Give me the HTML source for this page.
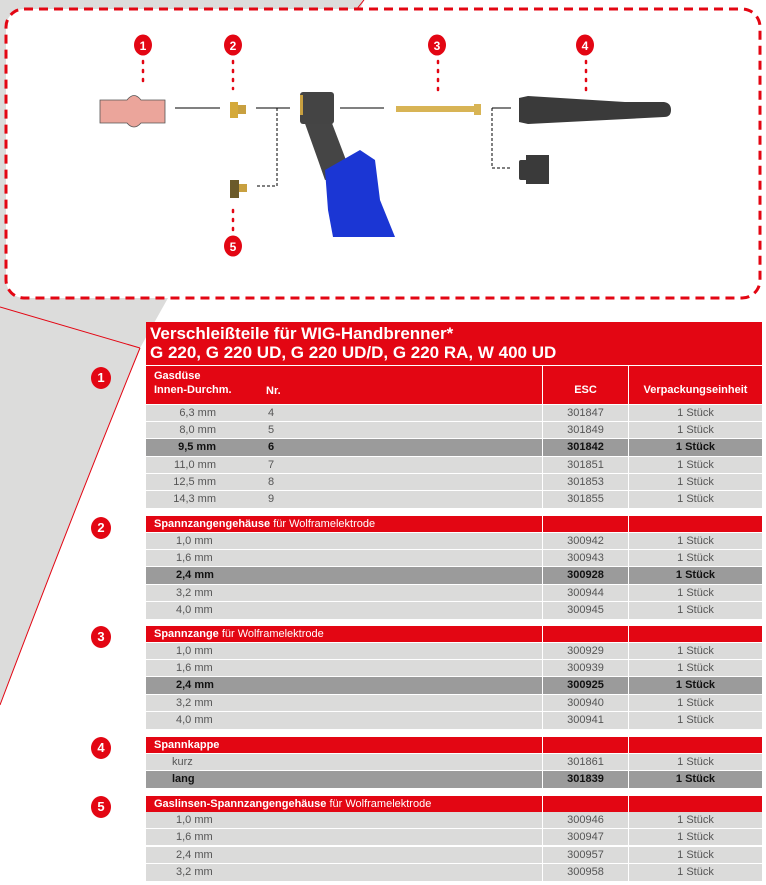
<!DOCTYPE html>
<html><head><meta charset="utf-8"><style>
body{margin:0;width:766px;height:885px;position:relative;background:#fff;overflow:hidden;font-family:"Liberation Sans Narrow","Liberation Sans",sans-serif;}
.r{position:absolute;left:146px;width:616px;height:16px;font-size:11px;color:#555;}
.r div{position:absolute;top:0;height:100%;line-height:16px;}
.a{left:0;width:396px;background:#dbdbda}
.b{left:397px;width:85px;background:#dbdbda;text-align:center}
.c{left:483px;width:133px;background:#dbdbda;text-align:center}
.d div{background:#9b9b9b;color:#111;font-weight:bold}
.h div{background:#e30613;color:#fff;font-weight:bold;font-size:11px}
.n{position:absolute;left:91px;width:20px;height:22px;border-radius:50%;background:#e30613;color:#fff;font:bold 13px "Liberation Sans",sans-serif;text-align:center;line-height:22px}
</style></head><body>
<svg width="766" height="885" style="position:absolute;left:0;top:0">
<path d="M0,0 H364 L300,150 L168,298 L140,348 Q70,520 0,705 Z" fill="#dcdcdb"/>
<line x1="0" y1="307" x2="140" y2="348" stroke="#e30613" stroke-width="1"/>
<path d="M140,348 Q70,520 0,705" fill="none" stroke="#e30613" stroke-width="1"/>
<line x1="364" y1="0" x2="356" y2="10" stroke="#e30613" stroke-width="1"/>
<rect x="6" y="9" width="754" height="289" rx="18" fill="#fff" stroke="#e30613" stroke-width="3" stroke-dasharray="9,6"/>
<g fill="#e30613">
<ellipse cx="143" cy="45" rx="9" ry="10.5"/><ellipse cx="233" cy="45" rx="9" ry="10.5"/><ellipse cx="437" cy="45" rx="9" ry="10.5"/><ellipse cx="585" cy="45" rx="9" ry="10.5"/><ellipse cx="233" cy="246" rx="9" ry="10.5"/>
</g>
<g fill="#fff" font-family="Liberation Sans" font-weight="bold" font-size="12" text-anchor="middle">
<text x="143" y="50">1</text><text x="233" y="50">2</text><text x="437" y="50">3</text><text x="585" y="50">4</text><text x="233" y="251">5</text></g>
<g stroke="#e30613" stroke-width="2.5" stroke-dasharray="2,7" stroke-linecap="round">
<line x1="143" y1="61" x2="143" y2="82"/><line x1="233" y1="61" x2="233" y2="89"/><line x1="438" y1="61" x2="438" y2="92"/><line x1="586" y1="61" x2="586" y2="90"/><line x1="233" y1="210" x2="233" y2="231"/></g>
<path d="M100,100 H127 Q134,91 141,100 H165 V123 H141 Q134,131 127,123 H100 Z" fill="#eba59b" stroke="#555" stroke-width="0.8"/>
<g stroke="#000" stroke-width="1"><line x1="175" y1="108" x2="220" y2="108"/><line x1="256" y1="108" x2="290" y2="108"/><line x1="340" y1="108" x2="384" y2="108"/><line x1="492" y1="108" x2="511" y2="108"/></g>
<g stroke="#000" stroke-width="1" stroke-dasharray="3,2" fill="none"><path d="M277,108 V186 H256"/><path d="M492,108 V168 H511"/></g>
<rect x="230" y="102" width="8" height="16" fill="#d4a93a"/><rect x="238" y="105" width="8" height="9" fill="#c8a040"/>
<rect x="230" y="180" width="9" height="18" fill="#6b5a2a"/><rect x="239" y="184" width="8" height="8" fill="#c8a040"/>
<rect x="396" y="106" width="80" height="6" fill="#d8b455"/><rect x="474" y="104" width="7" height="11" fill="#d8b455"/>
<path d="M519,98 L528,96 L625,102 H664 Q671,103 671,110 Q671,117 664,117 L528,124 L519,122 Z" fill="#3a3a3a"/>
<rect x="519" y="160" width="9" height="20" rx="2" fill="#3a3a3a"/><rect x="526" y="155" width="23" height="29" fill="#3a3a3a"/>
<path d="M303,118 H330 L346,160 L338,178 L325,180 L318,160 Z" fill="#454545"/>
<path d="M325,170 L360,150 L375,160 L380,200 L395,237 H333 L328,210 Z" fill="#1b36d4"/>
<rect x="300" y="92" width="34" height="32" rx="3" fill="#444"/>
<rect x="300" y="95" width="3" height="20" fill="#c8a040"/>
</svg>
<div style="position:absolute;left:146px;top:322px;width:616px;height:43px;background:#e30613;color:#fff;font:bold 17px/19px 'Liberation Sans Narrow','Liberation Sans',sans-serif;padding:2px 0 0 4px;box-sizing:border-box">Verschleißteile für WIG-Handbrenner*<br>G 220, G 220 UD, G 220 UD/D, G 220 RA, W 400 UD</div>
<div class="r h" style="top:366px;height:38px"><div class="a" style="line-height:14px;padding:3px 0 0 8px;box-sizing:border-box;width:396px">Gasdüse<br>Innen-Durchm.<span style="position:absolute;left:120px;bottom:6px">Nr.</span></div><div class="b" style="line-height:48px">ESC</div><div class="c" style="line-height:48px">Verpackungseinheit</div></div>
<div class="n" style="top:367px">1</div><div class="n" style="top:517px">2</div><div class="n" style="top:626px">3</div><div class="n" style="top:737px">4</div><div class="n" style="top:796px">5</div>
<div class="r" style="top:405px"><div class="a"><span style="position:absolute;left:0;width:70px;text-align:right">6,3 mm</span><span style="position:absolute;left:122px">4</span></div><div class="b">301847</div><div class="c">1 Stück</div></div>
<div class="r" style="top:422px"><div class="a"><span style="position:absolute;left:0;width:70px;text-align:right">8,0 mm</span><span style="position:absolute;left:122px">5</span></div><div class="b">301849</div><div class="c">1 Stück</div></div>
<div class="r d" style="top:439px;height:17px"><div class="a"><span style="position:absolute;left:0;width:70px;text-align:right">9,5 mm</span><span style="position:absolute;left:122px">6</span></div><div class="b">301842</div><div class="c">1 Stück</div></div>
<div class="r" style="top:457px"><div class="a"><span style="position:absolute;left:0;width:70px;text-align:right">11,0 mm</span><span style="position:absolute;left:122px">7</span></div><div class="b">301851</div><div class="c">1 Stück</div></div>
<div class="r" style="top:474px"><div class="a"><span style="position:absolute;left:0;width:70px;text-align:right">12,5 mm</span><span style="position:absolute;left:122px">8</span></div><div class="b">301853</div><div class="c">1 Stück</div></div>
<div class="r" style="top:491px;height:17px"><div class="a"><span style="position:absolute;left:0;width:70px;text-align:right">14,3 mm</span><span style="position:absolute;left:122px">9</span></div><div class="b">301855</div><div class="c">1 Stück</div></div>

<div class="r h" style="top:516px"><div class="a" style="padding-left:8px;box-sizing:border-box">Spannzangengehäuse <span style="font-weight:normal">für Wolframelektrode</span></div><div class="b"></div><div class="c"></div></div>
<div class="r" style="top:533px"><div class="a" style="padding-left:30px;box-sizing:border-box">1,0 mm</div><div class="b">300942</div><div class="c">1 Stück</div></div>
<div class="r" style="top:550px"><div class="a" style="padding-left:30px;box-sizing:border-box">1,6 mm</div><div class="b">300943</div><div class="c">1 Stück</div></div>
<div class="r d" style="top:567px;height:17px"><div class="a" style="padding-left:30px;box-sizing:border-box">2,4 mm</div><div class="b">300928</div><div class="c">1 Stück</div></div>
<div class="r" style="top:585px"><div class="a" style="padding-left:30px;box-sizing:border-box">3,2 mm</div><div class="b">300944</div><div class="c">1 Stück</div></div>
<div class="r" style="top:602px;height:17px"><div class="a" style="padding-left:30px;box-sizing:border-box">4,0 mm</div><div class="b">300945</div><div class="c">1 Stück</div></div>

<div class="r h" style="top:626px"><div class="a" style="padding-left:8px;box-sizing:border-box">Spannzange <span style="font-weight:normal">für Wolframelektrode</span></div><div class="b"></div><div class="c"></div></div>
<div class="r" style="top:643px"><div class="a" style="padding-left:30px;box-sizing:border-box">1,0 mm</div><div class="b">300929</div><div class="c">1 Stück</div></div>
<div class="r" style="top:660px"><div class="a" style="padding-left:30px;box-sizing:border-box">1,6 mm</div><div class="b">300939</div><div class="c">1 Stück</div></div>
<div class="r d" style="top:677px;height:17px"><div class="a" style="padding-left:30px;box-sizing:border-box">2,4 mm</div><div class="b">300925</div><div class="c">1 Stück</div></div>
<div class="r" style="top:695px"><div class="a" style="padding-left:30px;box-sizing:border-box">3,2 mm</div><div class="b">300940</div><div class="c">1 Stück</div></div>
<div class="r" style="top:712px;height:17px"><div class="a" style="padding-left:30px;box-sizing:border-box">4,0 mm</div><div class="b">300941</div><div class="c">1 Stück</div></div>

<div class="r h" style="top:737px"><div class="a" style="padding-left:8px;box-sizing:border-box">Spannkappe</div><div class="b"></div><div class="c"></div></div>
<div class="r" style="top:754px"><div class="a" style="padding-left:26px;box-sizing:border-box">kurz</div><div class="b">301861</div><div class="c">1 Stück</div></div>
<div class="r d" style="top:771px;height:17px"><div class="a" style="padding-left:26px;box-sizing:border-box">lang</div><div class="b">301839</div><div class="c">1 Stück</div></div>

<div class="r h" style="top:796px"><div class="a" style="padding-left:8px;box-sizing:border-box">Gaslinsen-Spannzangengehäuse <span style="font-weight:normal">für Wolframelektrode</span></div><div class="b"></div><div class="c"></div></div>
<div class="r" style="top:812px"><div class="a" style="padding-left:30px;box-sizing:border-box">1,0 mm</div><div class="b">300946</div><div class="c">1 Stück</div></div>
<div class="r" style="top:829px"><div class="a" style="padding-left:30px;box-sizing:border-box">1,6 mm</div><div class="b">300947</div><div class="c">1 Stück</div></div>
<div class="r" style="top:847px"><div class="a" style="padding-left:30px;box-sizing:border-box">2,4 mm</div><div class="b">300957</div><div class="c">1 Stück</div></div>
<div class="r" style="top:864px;height:17px"><div class="a" style="padding-left:30px;box-sizing:border-box">3,2 mm</div><div class="b">300958</div><div class="c">1 Stück</div></div>
</body></html>
